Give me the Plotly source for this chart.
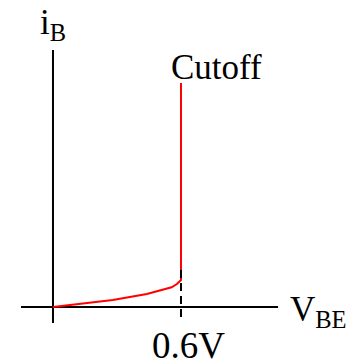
import plotly.graph_objects as go

# Data (V_BE in volts, i_B in arbitrary units)
vbe = [0.0, 0.28, 0.44, 0.556, 0.581, 0.6, 0.6]
ib = [0.0, 0.07, 0.13, 0.197, 0.23, 0.27, 2.24]

x_axis_line = [-0.15, 1.055]
y_axis_line = [-0.16, 2.57]
threshold_v = 0.6
threshold_dash_y = [0.37, -0.15]

FONT = "Liberation Serif"
FS = 35

fig = go.Figure()
# horizontal axis
fig.add_trace(go.Scatter(x=x_axis_line, y=[0, 0], mode="lines",
                         line=dict(color="black", width=2), hoverinfo="skip"))
# vertical axis
fig.add_trace(go.Scatter(x=[0, 0], y=y_axis_line, mode="lines",
                         line=dict(color="black", width=2), hoverinfo="skip"))
# curve
fig.add_trace(go.Scatter(x=vbe, y=ib, mode="lines",
                         line=dict(color="red", width=2), hoverinfo="skip"))
# dashed threshold
fig.add_trace(go.Scatter(x=[threshold_v, threshold_v], y=threshold_dash_y, mode="lines",
                         line=dict(color="black", width=2, dash="8px,5px"), hoverinfo="skip"))

fig.add_annotation(x=-0.07, y=2.83, text="i<sub>B</sub>", showarrow=False,
                   xanchor="left", yanchor="middle", font=dict(family=FONT, size=FS, color="black"))
fig.add_annotation(x=0.545, y=2.40, text="Cutoff", showarrow=False,
                   xanchor="left", yanchor="middle", font=dict(family=FONT, size=FS, color="black"))
fig.add_annotation(x=1.10, y=-0.04, text="V<sub>BE</sub>", showarrow=False,
                   xanchor="left", yanchor="middle", font=dict(family=FONT, size=FS, color="black"))
fig.add_annotation(x=0.635, y=-0.385, text="0.6V", showarrow=False,
                   xanchor="center", yanchor="middle", font=dict(family=FONT, size=37, color="black"))

# the page body has an 8px margin; ranges compensate so marks land where the reference has them
fig.update_layout(
    width=360, height=364,
    margin=dict(l=0, r=0, t=0, b=0),
    paper_bgcolor="white", plot_bgcolor="white",
    showlegend=False,
    xaxis=dict(range=[-0.2109, 1.4766], visible=False, fixedrange=True),
    yaxis=dict(range=[-0.65, 2.99], visible=False, fixedrange=True),
)
fig.write_html("out.html")
